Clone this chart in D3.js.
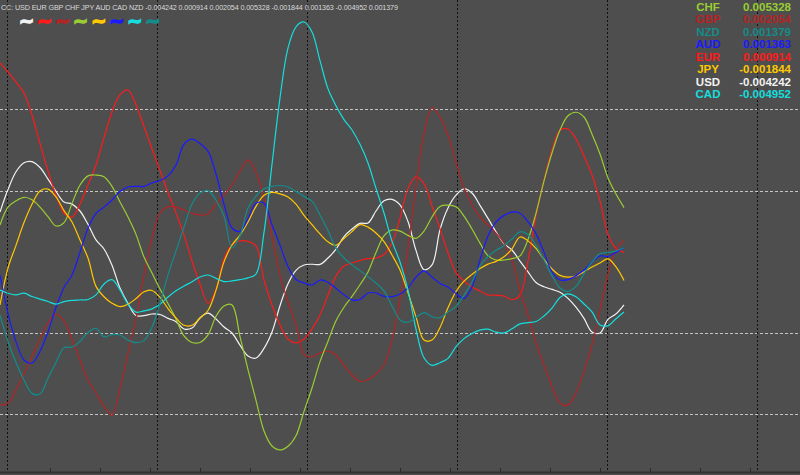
<!DOCTYPE html>
<html><head><meta charset="utf-8">
<script src="https://cdn.jsdelivr.net/npm/d3@7"></script>
<style>
html,body{margin:0;padding:0;background:#4e4e4e;}
svg{display:block;}
</style></head><body>
<svg id="c" width="800" height="475"></svg>
<script>
// ---- data ----
const currencies = ["USD","EUR","GBP","CHF","JPY","AUD","CAD","NZD"];
const colors = {USD:"#f2f2f2", EUR:"#ff1a1a", GBP:"#b52424", CHF:"#9acd32", JPY:"#ffc800", AUD:"#1a1aff", CAD:"#14dede", NZD:"#138c8c"};
// strength per bar, in units of 1e-4
const USD = [48.9,71.0,88.5,97.4,98.5,92.7,81.3,69.2,58.7,56.7,
 49.9,36.8,21.4,12.5,-3.5,-25.9,-41.1,-53.0,-53.1,-51.5,
 -52.0,-55.8,-59.0,-66.2,-65.3,-55.4,-50.7,-56.4,-64.3,-70.2,
 -82.1,-92.8,-94.8,-85.3,-69.2,-43.3,-21.6,-8.5,-3.2,-2.5,
 -2.7,3.6,12.4,24.7,32.1,37.7,38.1,49.9,60.0,61.4,
 55.9,39.5,11.1,-7.8,-3.2,31.6,52.9,65.5,71.6,67.6,
 55.5,42.6,29.4,17.8,11.5,0.6,-10.0,-20.4,-24.7,-27.3,
 -30.1,-36.1,-44.8,-55.8,-69.2,-70.2,-56.8,-51.4,-42.42];
const EUR = [195.6,186.7,176.9,166.1,144.4,116.3,89.3,65.7,47.9,44.0,
 56.8,75.5,95.2,121.8,147.3,164.1,169.0,154.2,133.1,110.9,
 89.7,68.1,47.9,26.3,0.7,-21.9,-40.7,-27.9,2.7,16.9,
 20.4,19.9,15.5,-18.0,-42.6,-62.3,-76.1,-80.0,-76.1,-66.2,
 -52.5,-32.8,-14.1,-4.2,-1.3,1.2,3.1,3.6,7.1,18.4,
 42.5,72.0,83.4,76.8,54.8,32.6,8.6,-10.7,-19.0,-24.9,
 -28.8,-32.8,-32.8,-33.8,-37.2,-32.8,0.7,45.0,80.4,109.9,
 129.6,130.6,120.8,104.0,85.3,59.7,26.7,13.2,9.14];
const GBP = [-141.0,-139.4,-126.0,-110.5,-93.3,-75.7,-60.3,-51.5,-58.4,-76.1,
 -96.8,-116.4,-129.2,-142.0,-150.9,-124.8,-90.5,-56.4,-13.1,23.3,
 47.9,54.2,53.8,50.9,47.5,46.0,46.9,56.8,65.9,75.5,
 88.9,100.3,87.5,62.1,24.3,-12.9,-39.7,-62.3,-90.9,-93.8,
 -89.9,-87.9,-91.8,-102.1,-111.5,-117.8,-115.9,-110.5,-101.7,-76.7,
 -37.1,13.5,74.5,125.7,151.3,142.4,124.3,97.6,72.5,56.1,
 44.0,36.1,28.2,18.4,1.7,-28.5,-52.9,-80.0,-101.7,-122.7,
 -139.1,-141.2,-129.2,-108.0,-82.0,-48.1,-12.1,12.8,20.54];
const CHF = [36.1,53.6,59.9,63.4,61.0,53.8,44.3,35.1,38.5,57.4,
 75.5,84.5,85.3,83.7,74.2,58.8,44.0,26.9,4.6,-11.1,
 -26.9,-41.1,-56.3,-73.1,-79.5,-79.5,-72.1,-53.7,-43.6,-42.6,
 -73.7,-106.2,-136.4,-166.6,-181.4,-185.3,-181.6,-171.3,-147.3,-124.3,
 -98.3,-78.3,-58.1,-44.8,-34.2,-22.7,-10.1,9.0,25.5,31.2,
 30.1,25.9,23.0,30.2,44.0,54.4,55.6,54.0,44.9,32.2,
 18.3,6.0,1.7,1.7,3.1,5.7,21.8,47.7,79.5,107.0,
 129.6,143.6,147.1,142.4,125.5,106.0,82.4,66.6,53.28];
const JPY = [-42.6,-6.2,16.1,38.5,56.5,69.6,71.5,63.7,50.3,39.1,
 21.3,3.6,-24.3,-34.5,-40.9,-44.2,-41.8,-36.3,-29.6,-28.3,
 -35.2,-46.1,-55.4,-62.6,-62.5,-55.4,-48.0,-28.0,-0.2,16.4,
 26.2,39.1,54.4,65.4,68.2,66.8,63.7,56.7,45.5,36.4,
 27.3,19.6,16.2,22.9,29.6,36.4,34.0,28.2,19.7,6.6,
 -8.2,-30.6,-54.3,-77.1,-77.1,-64.7,-45.3,-29.3,-19.1,-12.5,
 -6.7,-2.4,0.3,4.8,12.7,24.3,20.5,13.1,2.2,-7.2,
 -13.5,-15.2,-14.1,-9.9,-5.2,-1.3,2.7,-5.2,-18.44];
const AUD = [-13.1,-50.9,-78.7,-96.7,-99.7,-88.2,-68.9,-44.9,-25.3,-13.1,
 9.3,32.8,47.5,53.7,60.7,69.1,73.5,74.2,74.1,77.5,
 79.9,84.5,95.1,115.6,120.6,116.3,108.9,86.3,56.5,33.2,
 29.9,42.4,57.5,57.5,36.4,16.4,-4.8,-17.5,-20.9,-22.9,
 -18.0,-20.4,-26.2,-32.6,-37.5,-37.2,-30.8,-30.8,-34.1,-34.3,
 -31.7,-25.7,-15.3,-9.0,-15.1,-21.4,-25.0,-31.3,-36.3,-24.9,
 1.7,25.3,38.9,45.6,48.8,47.7,39.4,27.4,9.2,-10.1,
 -18.0,-17.6,-13.7,-8.2,-0.3,5.7,5.1,9.2,13.63];
const CAD = [-27.9,-31.1,-32.6,-31.0,-34.3,-36.8,-39.2,-41.8,-39.3,-38.1,
 -37.7,-37.2,-32.7,-21.9,-17.7,-27.7,-41.7,-49.6,-48.4,-46.4,
 -41.9,-34.7,-28.6,-23.9,-19.8,-15.1,-13.1,-16.4,-19.6,-18.9,
 -17.6,-15.9,-12.1,28.8,95.8,161.3,210.3,231.2,235.9,226.1,
 197.9,170.2,153.5,139.9,129.6,115.5,97.2,72.2,47.9,20.2,
 -0.3,-27.9,-66.5,-94.6,-102.0,-99.4,-95.1,-83.7,-75.7,-70.6,
 -67.3,-66.4,-69.3,-70.1,-66.0,-61.2,-59.9,-58.9,-53.4,-45.6,
 -35.3,-31.6,-34.4,-41.6,-49.5,-62.3,-62.9,-56.1,-49.52];
const NZD = [-52.5,-78.6,-99.3,-116.4,-129.6,-130.2,-114.5,-99.3,-84.6,-84.0,
 -78.4,-69.7,-65.6,-74.0,-71.7,-72.1,-77.1,-79.7,-77.7,-64.4,
 -41.1,-13.0,10.6,34.2,56.6,67.6,70.0,60.5,44.9,13.5,
 25.5,52.9,64.6,71.7,74.2,75.0,73.5,69.2,64.3,59.6,
 46.0,30.7,13.1,3.6,-3.1,-8.8,-14.7,-21.0,-28.8,-43.6,
 -57.3,-59.6,-54.8,-50.1,-54.1,-55.2,-49.5,-44.0,-32.9,-20.0,
 -4.2,5.1,11.2,15.8,22.4,29.4,26.8,15.8,1.7,-13.6,
 -25.9,-29.3,-24.3,-11.7,-0.5,7.9,9.0,10.7,13.79];
const lastValues = [-0.004242, 0.000914, 0.002054, 0.005328, -0.001844, 0.001363, -0.004952, 0.001379];
const levels = [150, 70, -70, -150];           // 1e-4 units
const timeGridBars = [0.84, 19.59, 38.34, 57.09, 75.84, 94.59];
const scaleTickBars = d3.range(6.25, 100, 6.25);
const seriesData = {USD, EUR, GBP, CHF, JPY, AUD, CAD, NZD};

// ---- chart ----
const W = 800, H = 475;
const svg = d3.select("#c");
const x = d3.scaleLinear().domain([0, 100]).range([0, W]);
const y = d3.scaleLinear().domain([-150, 150]).range([414.1, 109.3]);

svg.append("rect").attr("width", W).attr("height", H).attr("fill", "#4e4e4e");

// horizontal level lines
svg.append("g").selectAll("line").data(levels).join("line")
  .attr("x1", 0).attr("x2", W)
  .attr("y1", d => Math.round(y(d)) + 0.5).attr("y2", d => Math.round(y(d)) + 0.5)
  .attr("stroke", "#c4c4c4").attr("stroke-width", 1).attr("stroke-dasharray", "3,2");

// vertical time grid
svg.append("g").selectAll("line").data(timeGridBars).join("line")
  .attr("x1", d => Math.round(x(d)) + 0.5).attr("x2", d => Math.round(x(d)) + 0.5)
  .attr("y1", 0).attr("y2", 472)
  .attr("stroke", "#111").attr("stroke-width", 1).attr("stroke-dasharray", "2,2");

// bottom scale
svg.append("line").attr("x1", 0).attr("x2", W).attr("y1", 472.5).attr("y2", 472.5)
  .attr("stroke", "#333").attr("stroke-width", 2);
svg.append("g").selectAll("line").data(scaleTickBars).join("line")
  .attr("x1", d => Math.round(x(d)) + 0.5).attr("x2", d => Math.round(x(d)) + 0.5)
  .attr("y1", 468).attr("y2", 472).attr("stroke", "#2a2a2a");

// series lines
const line = d3.line().x((d, i) => x(i)).y(d => y(d)).curve(d3.curveCatmullRom.alpha(0.5));
svg.append("g").selectAll("path").data(currencies).join("path")
  .attr("d", c => line(seriesData[c]))
  .attr("fill", "none").attr("stroke", c => colors[c]).attr("stroke-width", 1.2)
  .attr("stroke-linejoin", "round");

// title
const fmt = v => v.toFixed(6);
svg.append("text").attr("x", 1).attr("y", 9.5)
  .attr("font-family", "'Liberation Sans', Arial, sans-serif").attr("font-size", 7.2)
  .attr("fill", "#dadada")
  .attr("textLength", 397).attr("lengthAdjust", "spacing")
  .text("CC:  " + currencies.join(" ") + " " + lastValues.map(fmt).join(" "));

// wave markers
svg.append("g").selectAll("text").data(currencies).join("text")
  .attr("x", (c, i) => 26.5 + i * 18.05).attr("y", 26.5)
  .attr("text-anchor", "middle")
  .attr("font-family", "'DejaVu Sans', sans-serif").attr("font-weight", "bold").attr("font-size", 18)
  .attr("fill", c => colors[c]).attr("stroke", c => colors[c]).attr("stroke-width", 1.5)
  .text("~");

// legend (sorted by value)
const legendRows = d3.sort(currencies.map((c, i) => ({c, v: lastValues[i]})), (a, b) => b.v - a.v);
const lg = svg.append("g").attr("font-family", "'Liberation Sans', Arial, sans-serif")
  .attr("font-weight", "bold").attr("font-size", 11.5);
lg.selectAll("text.n").data(legendRows).join("text").attr("class", "n")
  .attr("x", 708).attr("y", (d, i) => 10.7 + i * 12.5).attr("text-anchor", "middle")
  .attr("fill", d => colors[d.c]).text(d => d.c);
lg.selectAll("text.v").data(legendRows).join("text").attr("class", "v")
  .attr("x", 791).attr("y", (d, i) => 10.7 + i * 12.5).attr("text-anchor", "end")
  .attr("fill", d => colors[d.c]).text(d => fmt(d.v));
</script>
</body></html>
